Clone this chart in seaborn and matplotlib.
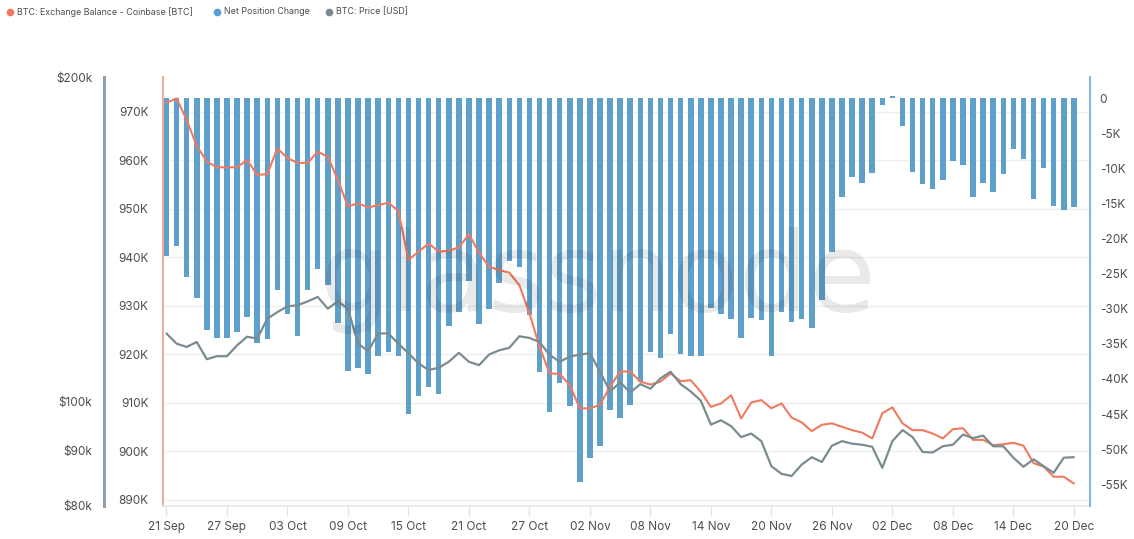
import numpy as np
import pandas as pd
import matplotlib
matplotlib.use("Agg")
import matplotlib.pyplot as plt
import seaborn as sns
from matplotlib.lines import Line2D
from matplotlib.ticker import FixedLocator, NullLocator

# daily data, 21 Sep - 20 Dec
start_date = "2025-09-21"
n_days = 91

# net position change (thousand BTC)
net_change = [
    -22.5, -21.0, -25.5, -28.5, -33.0, -34.1, -34.2, -33.3, -31.2, -34.9,
    -34.3, -27.3, -30.8, -33.9, -27.3, -24.4, -26.6, -32.0, -38.8, -38.5,
    -39.3, -36.7, -36.2, -36.8, -45.0, -42.5, -41.2, -42.2, -32.5, -30.5,
    -26.0, -32.2, -30.0, -26.4, -23.2, -24.1, -30.9, -39.0, -44.7, -40.6,
    -43.9, -54.7, -51.2, -49.5, -44.4, -45.5, -43.7, -40.4, -36.2, -37.0,
    -33.6, -36.4, -36.8, -36.8, -29.9, -30.8, -31.5, -34.1, -31.3, -31.6,
    -36.7, -30.5, -31.9, -31.5, -32.8, -28.8, -21.9, -14.1, -11.3, -12.1,
    -10.6, -1.0, 0.3, -4.0, -10.5, -12.3, -12.9, -11.7, -9.0, -9.5,
    -14.1, -12.1, -13.4, -10.8, -7.3, -8.7, -14.3, -9.9, -15.4, -16.0,
    -15.5,
]

# exchange balance coinbase (thousand BTC)
balance = [
    971.9, 972.8, 968.4, 963.0, 959.8, 958.6, 958.6, 958.6, 960.1, 957.0,
    957.2, 962.5, 960.5, 959.5, 959.5, 961.8, 960.8, 956.0, 950.5, 951.2,
    950.3, 950.8, 951.3, 949.6, 939.5, 941.2, 942.9, 941.2, 941.4, 942.1,
    944.8, 941.0, 938.1, 937.4, 936.9, 934.3, 928.5, 921.6, 916.1, 916.0,
    913.7, 908.9, 908.9, 909.6, 913.4, 916.5, 916.5, 914.4, 913.8, 914.4,
    916.1, 914.5, 914.7, 912.3, 909.2, 909.9, 911.6, 906.8, 910.1, 910.6,
    908.9, 909.9, 907.0, 906.0, 904.2, 905.5, 905.8, 905.1, 904.4, 903.9,
    902.7, 907.9, 909.1, 905.8, 904.4, 904.4, 903.7, 902.7, 904.6, 904.8,
    902.4, 902.4, 901.3, 901.5, 901.8, 901.2, 897.6, 896.9, 894.8, 894.8,
    893.4,
]

# btc price (thousand USD)
price = [
    115.6, 113.1, 112.3, 113.5, 109.4, 110.1, 110.1, 112.7, 114.8, 114.3,
    119.3, 121.0, 122.5, 122.8, 123.8, 125.0, 121.9, 123.8, 121.9, 113.1,
    111.3, 115.6, 115.6, 113.1, 110.8, 108.4, 106.9, 107.4, 108.8, 110.9,
    108.8, 108.0, 110.5, 111.5, 112.1, 114.9, 114.5, 113.5, 110.4, 108.8,
    110.0, 110.5, 110.8, 106.5, 102.1, 104.1, 101.9, 103.7, 102.7, 105.0,
    106.5, 103.7, 102.1, 100.1, 95.1, 96.0, 94.8, 92.6, 93.3, 91.8,
    87.0, 85.6, 85.2, 87.3, 88.7, 87.8, 90.9, 91.8, 91.3, 91.1,
    90.7, 86.7, 91.8, 94.0, 92.6, 89.7, 89.6, 90.8, 91.1, 93.1,
    92.4, 92.9, 90.8, 90.8, 88.6, 86.9, 88.3, 87.0, 85.8, 88.6,
    88.7,
]

balance_ticks = [890, 900, 910, 920, 930, 940, 950, 960, 970]
net_ticks = [0, -5, -10, -15, -20, -25, -30, -35, -40, -45, -50, -55]
price_ticks = [80, 90, 100, 200]
price_labels = ["$80k", "$90k", "$100k", "$200k"]

legend_labels = ["BTC: Exchange Balance - Coinbase [BTC]", "Net Position Change", "BTC: Price [USD]"]

dates = pd.date_range(start_date, periods=n_days, freq="D")
df = pd.DataFrame({
    "day": np.arange(n_days),
    "net": net_change,
    "balance": balance,
    "price": price,
})

BAR_C = "#5fa0cb"
BAL_C = "#f07a60"
PRICE_C = "#7a8c91"
TXT_C = "#4d4d4d"

sns.set_theme(style="white")
plt.rcParams["font.family"] = ["Inter", "DejaVu Sans"]

W, H = 1134, 539
fig, ax = plt.subplots(figsize=(W / 100, H / 100), dpi=100)
fig.subplots_adjust(left=0.1437, right=0.9612, bottom=0.0612, top=0.857)

# base axis: balance scale + grid
ax.set_ylim(888.76, 977.2)
ax.set_yticks(balance_ticks)
ax.set_yticklabels([f"{v}K" for v in balance_ticks])
ax.grid(axis="y", color="#efefef", linewidth=1)
ax.grid(axis="x", visible=False)

# bars
ax_bar = ax.twinx()
sns.barplot(data=df, x="day", y="net", ax=ax_bar, color=BAR_C,
            saturation=1, width=0.55, linewidth=0, errorbar=None)
ax_bar.set_ylim(-58.1, 3.0)
ax_bar.set_yticks(net_ticks)
ax_bar.set_yticklabels(["0" if v == 0 else f"{v}K" for v in net_ticks])

# balance line on top of bars
ax_line = ax.twinx()
sns.lineplot(data=df, x="day", y="balance", ax=ax_line, color=BAL_C, linewidth=1.5)
ax_line.set_ylim(ax.get_ylim())
ax_line.set_yticks([])

# price line, log scale, outer left axis
ax_price = ax.twinx()
sns.lineplot(data=df, x="day", y="price", ax=ax_price, color=PRICE_C, linewidth=1.6)
ax_price.set_yscale("log")
ax_price.set_ylim(79.9, 200.1)
ax_price.yaxis.set_major_locator(FixedLocator(price_ticks))
ax_price.yaxis.set_minor_locator(NullLocator())
ax_price.set_yticklabels(price_labels)
ax_price.yaxis.set_ticks_position("left")
ax_price.yaxis.set_label_position("left")
ax_price.spines["left"].set_position(("outward", 42.5))

# x axis
ax.set_xlim(-0.35, 91.6)
xt = list(range(0, n_days, 6))
ax.set_xticks(xt)
ax.set_xticklabels([dates[i].strftime("%d %b") for i in xt])
for a in (ax_bar, ax_line, ax_price):
    a.set_xlim(ax.get_xlim())

for a in (ax, ax_bar, ax_line, ax_price):
    a.set_xlabel("")
    a.set_ylabel("")
    for s in a.spines.values():
        s.set_visible(False)

ax.spines["left"].set_visible(True)
ax.spines["left"].set_color("#f5ab9c")
ax.spines["left"].set_linewidth(1.5)
ax.spines["bottom"].set_visible(True)
ax.spines["bottom"].set_color("#e8e8e8")
ax_bar.spines["right"].set_visible(True)
ax_bar.spines["right"].set_color("#86b6da")
ax_bar.spines["right"].set_linewidth(1.5)
ax_price.spines["left"].set_visible(True)
ax_price.spines["left"].set_color("#8fa2aa")
ax_price.spines["left"].set_linewidth(2.2)

ax.tick_params(axis="y", length=0, pad=10.5, labelsize=8.5, labelcolor=TXT_C)
ax.tick_params(axis="x", bottom=True, length=7, width=1, color="#e3e3e3",
               pad=4, labelsize=8.5, labelcolor=TXT_C)
ax_bar.tick_params(axis="y", length=0, pad=7, labelsize=8.5, labelcolor=TXT_C)
ax_price.tick_params(axis="y", length=0, pad=8.5, labelsize=8.5, labelcolor=TXT_C)
for a in (ax_bar, ax_line, ax_price):
    a.tick_params(axis="x", bottom=False, labelbottom=False)

# watermark
ax_price.text(0.469, 0.4545, "glassnode", transform=ax.transAxes, ha="center",
              va="baseline", fontsize=79, color="black", alpha=0.085,
              family="DejaVu Sans", zorder=10)

# legend row at the top (dot + label)
dot_colors = [BAL_C, "#5a9fd2", PRICE_C]
dot_x = [10, 217, 329]
ly = 1 - 12 / H
for lab, c, px in zip(legend_labels, dot_colors, dot_x):
    fig.add_artist(Line2D([px / W], [ly], marker="o", markersize=4.5, color=c,
                          linestyle="none", transform=fig.transFigure))
    fig.text((px + 7) / W, ly, lab, fontsize=6.4, color=TXT_C, va="center", ha="left")

fig.savefig("out.png", dpi=100)
